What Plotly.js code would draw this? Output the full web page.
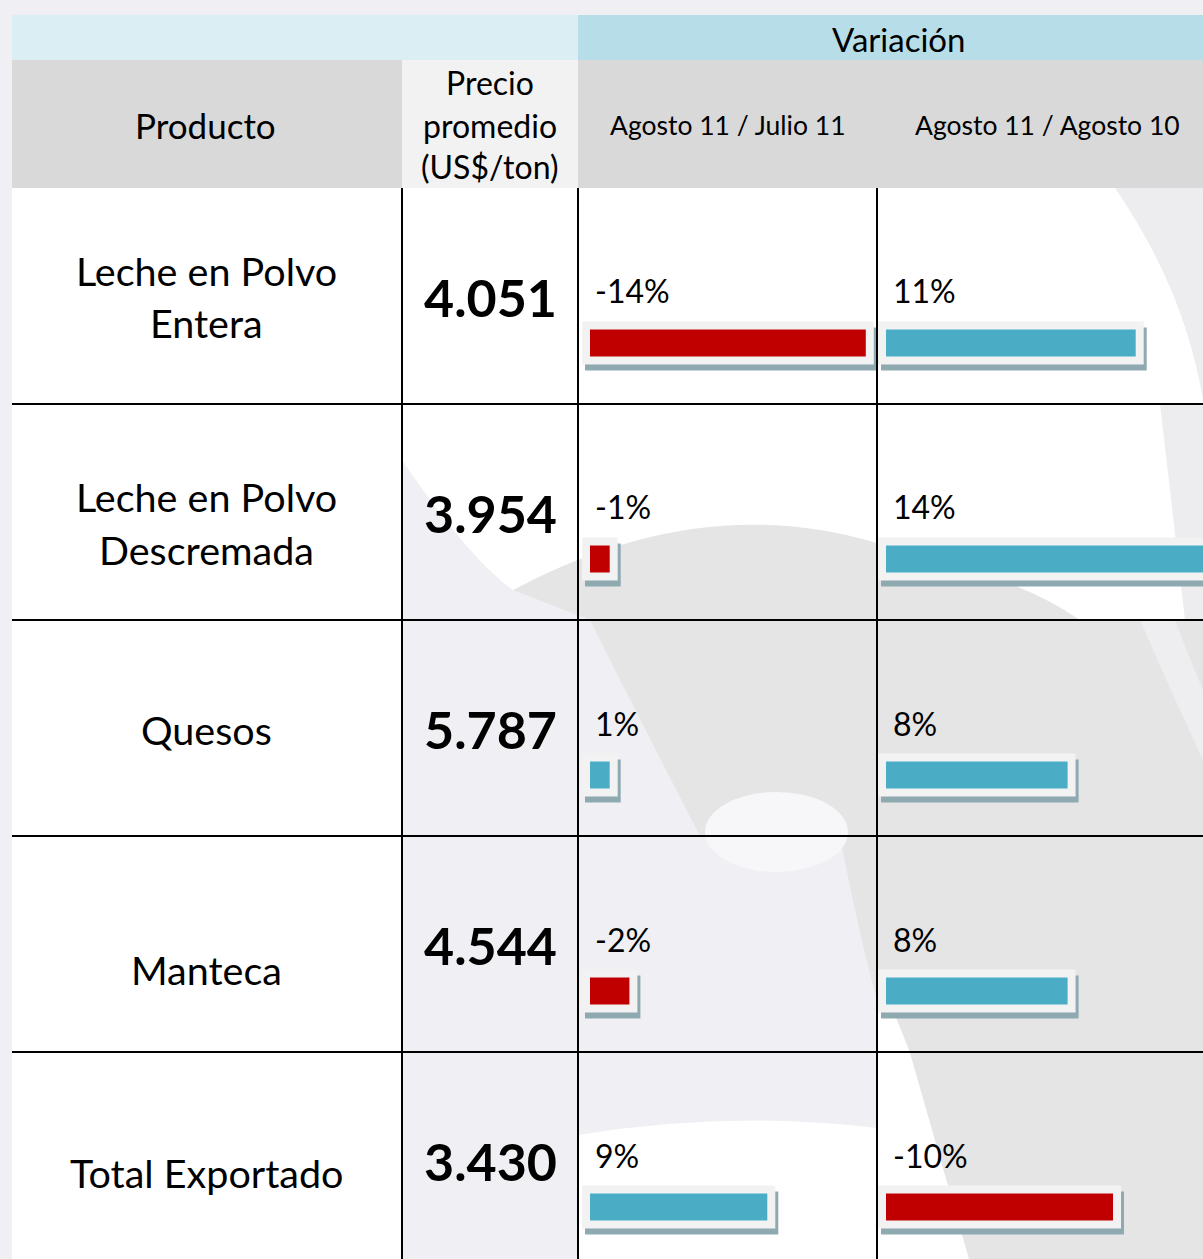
<!DOCTYPE html>
<html>
<head>
<meta charset="utf-8">
<script src="https://cdn.plot.ly/plotly-3.0.1.min.js"></script>
<style>html,body{margin:0;padding:0;background:#f0f0f4;}#chart{width:1203px;height:1259px;}</style>
</head>
<body>
<div id="chart"></div>
<script>
// ---------- DATA ----------
const productos = ['Leche en Polvo<br>Entera', 'Leche en Polvo<br>Descremada', 'Quesos', 'Manteca', 'Total Exportado'];
const precios = [4051, 3954, 5787, 4544, 3430];            // US$/ton
const varMensual = [-14, -1, 1, -2, 9];                     // Agosto 11 / Julio 11 (%)
const varAnual = [11, 14, 8, 8, -10];                       // Agosto 11 / Agosto 10 (%)
const encabezados = ['Producto', 'Precio<br>promedio<br>(US$/ton)', 'Agosto 11 / Julio 11', 'Agosto 11 / Agosto 10'];
const grupoVariacion = 'Variación';

// ---------- LAYOUT CONSTANTS (px) ----------
const W = 1203, H = 1259;
const TOP = 188, ROW_H = 216;
const L0 = 590, R0 = 886;          // bar start of each variation column
const LD = 579, RD = 878;          // left edge of each column's plotting domain
const sL = 19.7, sR = 22.7;        // px per percentage point in each column
const FONT = 'Lato, "Open Sans", sans-serif';
const RED = '#c00000', BLUE = '#4bacc6';

const px = x => x / W;
const py = y => 1 - y / H;
const pth = s => s.replace(/(-?\d+(?:\.\d+)?),(-?\d+(?:\.\d+)?)/g, (m, a, b) => px(+a).toFixed(5) + ',' + py(+b).toFixed(5));

function rect(x0, y0, x1, y1, color, layer) {
  return {type: 'rect', xref: 'paper', yref: 'paper', x0: px(x0), x1: px(x1), y0: py(y1), y1: py(y0),
          fillcolor: color, line: {width: 0}, layer: layer || 'below'};
}
function path(s, color) {
  return {type: 'path', xref: 'paper', yref: 'paper', path: pth(s), fillcolor: color, line: {width: 0}, layer: 'below'};
}
function line(x0, y0, x1, y1) {
  return {type: 'line', xref: 'paper', yref: 'paper', x0: px(x0), x1: px(x1), y0: py(y0), y1: py(y1),
          line: {color: '#000', width: 2}, layer: 'above'};
}

// ---------- SHAPES ----------
const shapes = [];
// body base and faint watermark
shapes.push(rect(12, TOP, W, H, '#ffffff'));
shapes.push(path('M 1115,188 L 1203,188 L 1203,400 Q 1185,290 1115,188 Z', '#ededf0'));
shapes.push(path('M 1160,404 L 1203,404 L 1203,620 L 1185,620 Z', '#ededf0'));
shapes.push(path('M 402,460 Q 470,560 513,590 L 578,575 L 877,575 L 877,1128 Q 730,1110 578,1135 L 578,1259 L 402,1259 Z', '#f0f0f4'));
shapes.push(path('M 513,590 Q 700,490 877,543 L 877,836 L 700,836 Q 640,720 590,620 Z', '#e5e5e6'));
shapes.push(path('M 877,555 Q 1000,565 1080,620 L 1203,620 L 1203,1259 L 969,1259 L 910,1053 Q 890,1000 877,980 Z', '#e5e5e6'));
shapes.push(path('M 1140,620 L 1175,620 Q 1190,660 1203,690 L 1203,760 Q 1170,690 1140,620 Z', '#eeeef1'));
shapes.push(path('M 840,836 Q 860,940 877,1000 L 877,836 Z', '#e5e5e6'));
shapes.push({type: 'circle', xref: 'paper', yref: 'paper', x0: px(705), x1: px(848), y0: py(872), y1: py(792),
             fillcolor: '#f7f7f9', line: {width: 0}, layer: 'below'});
// header
shapes.push(rect(12, 15, 578, 60, '#daeef3'));
shapes.push(rect(578, 15, W, 60, '#b7dee8'));
shapes.push(rect(12, 60, 402, TOP, '#d9d9d9'));
shapes.push(rect(402, 60, 578, TOP, '#f2f2f2'));
shapes.push(rect(578, 60, W, TOP, '#d9d9d9'));
// grid
[402, 578, 877].forEach(x => shapes.push(line(x, TOP, x, H)));
for (let i = 1; i < productos.length; i++) shapes.push(line(12, TOP + i * ROW_H, W, TOP + i * ROW_H));

// ---------- ANNOTATIONS ----------
const annotations = [];
function txt(text, x, y, size, opts) {
  return Object.assign({text: text, xref: 'paper', yref: 'paper', x: px(x), y: py(y), showarrow: false,
    xanchor: 'center', yanchor: 'middle', font: {family: FONT, size: size, color: '#000'}}, opts || {});
}
annotations.push(txt(grupoVariacion, 898, 39, 33));
annotations.push(txt(encabezados[0], 205, 125, 35));
encabezados[1].split('<br>').forEach((t, j) => annotations.push(txt(t, 490, 83 + 42 * j, 32)));
annotations.push(txt(encabezados[2], 728, 125, 26.5));
annotations.push(txt(encabezados[3], 1047, 125, 26.5));

const nameDown = [1, 11, 1, 25, 12];
const fmtPrecio = v => Math.floor(v / 1000) + '.' + String(v % 1000).padStart(3, '0');
const fmtPct = v => v + '%';
productos.forEach((p, i) => {
  const lines = p.split('<br>');
  lines.forEach((t, j) => {
    annotations.push({text: t, xref: 'paper', yref: 'y', x: px(206), y: p, showarrow: false,
      xanchor: 'center', yanchor: 'middle', yshift: -((j - (lines.length - 1) / 2) * 52) - nameDown[i],
      font: {family: FONT, size: 39.5, color: '#000'}});
  });
  annotations.push({text: '<b>' + fmtPrecio(precios[i]) + '</b>', xref: 'paper', yref: 'y', x: px(490), y: p,
    showarrow: false, xanchor: 'center', yanchor: 'middle', yshift: -1,
    font: {family: FONT, size: 52, color: '#000'}});
  annotations.push({text: fmtPct(varMensual[i]), xref: 'x', yref: 'y', x: 0, y: p, showarrow: false,
    xanchor: 'left', yanchor: 'middle', xshift: 3, yshift: 5, font: {family: FONT, size: 32, color: '#000'}});
  annotations.push({text: fmtPct(varAnual[i]), xref: 'x2', yref: 'y', x: 0, y: p, showarrow: false,
    xanchor: 'left', yanchor: 'middle', xshift: 5, yshift: 5, font: {family: FONT, size: 32, color: '#000'}});
});

// ---------- BAR TRACES ----------
function barTraces(vals, xa, s) {
  const absV = vals.map(v => Math.abs(v));
  const colors = vals.map(v => v < 0 ? RED : BLUE);
  const w = 27 / ROW_H, off = 47 / ROW_H - w / 2;
  const common = {type: 'bar', orientation: 'h', x: absV, y: productos, xaxis: xa, yaxis: 'y',
                  width: w, cliponaxis: false, hoverinfo: 'skip', showlegend: false};
  return [
    Object.assign({}, common, {base: 3 / s, offset: off + 6 / ROW_H,
      marker: {color: '#8fa9b1', line: {color: '#8fa9b1', width: 16}}}),
    Object.assign({}, common, {base: 0, offset: off,
      marker: {color: '#f2f2f2', line: {color: '#f2f2f2', width: 16}}}),
    Object.assign({}, common, {base: 0, offset: off,
      marker: {color: colors, line: {width: 0}}})
  ];
}
const data = [].concat(barTraces(varMensual, 'x', sL), barTraces(varAnual, 'x2', sR));

const layout = {
  width: W, height: H, margin: {l: 0, r: 0, t: 0, b: 0},
  paper_bgcolor: '#f0f0f4', plot_bgcolor: 'rgba(0,0,0,0)',
  showlegend: false, barmode: 'overlay', font: {family: FONT},
  xaxis: {domain: [px(LD), 1], range: [-(L0 - LD) / sL, (W - L0) / sL], visible: false, fixedrange: true},
  xaxis2: {domain: [px(RD), 1], range: [-(R0 - RD) / sR, (W - R0) / sR], visible: false, anchor: 'y', fixedrange: true},
  yaxis: {domain: [0, py(TOP)], type: 'category', categoryorder: 'array', categoryarray: productos,
          range: [(H - TOP) / ROW_H - 0.5, -0.5], visible: false, fixedrange: true},
  shapes: shapes, annotations: annotations
};
Plotly.newPlot('chart', data, layout, {staticPlot: true, displayModeBar: false});
</script>
</body>
</html>
